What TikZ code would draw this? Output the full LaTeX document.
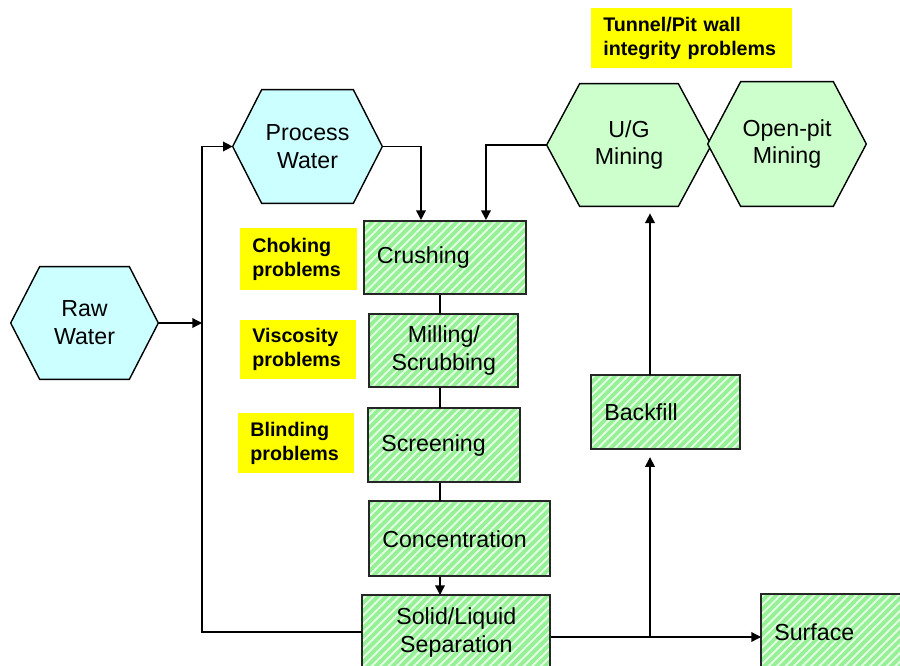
\documentclass[tikz,border=0pt]{standalone}
\usepackage{fontspec}
\setmainfont{Liberation Sans}
\usetikzlibrary{arrows.meta,patterns.meta}
\pgfdeclarelayer{background}
\pgfsetlayers{background,main}
\definecolor{stagegreen}{RGB}{150,240,150}
\definecolor{stripe}{RGB}{228,255,228}
\definecolor{waterblue}{RGB}{204,255,255}
\definecolor{minegreen}{RGB}{204,255,204}
\definecolor{noteyellow}{RGB}{255,255,0}
\newcommand{\stagefont}{\fontsize{13.2}{15.9}\selectfont}
\newcommand{\notefont}{\fontsize{11.2}{13.6}\selectfont\bfseries}
\tikzset{
	stage/.style={preaction={fill=stagegreen},
		pattern={Lines[angle=45,distance=3.4pt,line width=1.1pt]}, pattern color=stripe,
		postaction={draw=black!85, line width=1.1pt},
		anchor=north west, inner xsep=0.26cm, inner ysep=0pt, font=\stagefont},
	note/.style={fill=noteyellow, anchor=north west, inner xsep=0.24cm, inner ysep=0pt,
		align=left, font=\notefont},
	hexlabel/.style={inner sep=0pt, align=center, font=\stagefont},
	hexline/.style={draw=black, line width=0.8pt},
	flow/.style={line width=0.8pt}
}
\def\hexbox[#1](#2)(#3:#4:#5)#6#7{%
	\node[hexlabel, minimum width=#3cm, minimum height=#4cm] (#6) at (#2) {#7};
	\begin{pgfonlayer}{background}
		\draw[hexline, fill=#1] (#6.west) -- ([xshift=#5cm]#6.north west) -- ([xshift=-#5cm]#6.north east)
		-- (#6.east) -- ([xshift=-#5cm]#6.south east) -- ([xshift=#5cm]#6.south west) -- cycle;
	\end{pgfonlayer}}

\begin{document}
\begin{tikzpicture}[x=0.02cm, y=-0.02cm, >={Triangle[length=5.5pt,width=5.5pt]}]
	%%%%% START %%%%%
	\useasboundingbox (0,0) rectangle (900,666);
	\clip (0,0) rectangle (900,666);
	
	\hexbox[waterblue](84.5,323)(2.94:2.24:0.58){raw}{Raw\\Water}
	\hexbox[waterblue](307.5,146.5)(2.98:2.26:0.58){proc}{Process\\Water}
	\hexbox[minegreen](629,145)(3.28:2.44:0.66){ug}{U/G\\Mining}
	\hexbox[minegreen](787,144)(3.16:2.48:0.66){pit}{Open-pit\\Mining}
	
	\node[stage, text width=2.72cm, align=left, minimum height=1.46cm] (crush) at (363,220) {Crushing};
	\node[stage, text width=2.46cm, align=center, minimum height=1.46cm] (mill) at (369,314) {Milling/\\Scrubbing};
	\node[stage, text width=2.52cm, align=left, minimum height=1.48cm] (screen) at (368,408) {Screening};
	\node[stage, text width=3.10cm, align=left, minimum height=1.50cm] (conc) at (369,501) {Concentration};
	\node[stage, text width=3.24cm, align=center, minimum height=1.50cm] (solid) at (362,595) {Solid/Liquid\\Separation};
	\node[stage, text width=2.46cm, align=left, minimum height=1.48cm] (backfill) at (591,375) {Backfill};
	\node[stage, text width=2.48cm, align=left, minimum height=1.52cm] (surface) at (761,594) {Surface};
	
	\node[note, text width=1.86cm, minimum height=1.24cm] (choke) at (240,228) {Choking\\problems};
	\node[note, text width=1.84cm, minimum height=1.18cm] (visc) at (240,320) {Viscosity\\problems};
	\node[note, text width=1.84cm, minimum height=1.20cm] (blind) at (238,413) {Blinding\\problems};
	\node[note, text width=3.54cm, minimum height=1.20cm] (tunnel) at (591,8) {Tunnel/Pit wall\\integrity problems};
	
	\coordinate (spine) at (440,0);
	\coordinate (loopbot) at (202,632);
	\coordinate (tee) at (650,637);
	
	\draw[flow,->] (raw.east) -- (raw.east -| loopbot);
	\draw[flow,->] (loopbot -| solid.west) -- (loopbot) |- (proc.west);
	\draw[flow,->] (proc.east) -| ([xshift=1.16cm]crush.north west);
	\draw[flow,->] (ug.west) -| ([xshift=2.46cm]crush.north west);
	
	\draw[flow] (crush.south -| spine) -- (mill.north -| spine);
	\draw[flow] (mill.south -| spine) -- (screen.north -| spine);
	\draw[flow] (screen.south -| spine) -- (conc.north -| spine);
	\draw[flow,->] (conc.south -| spine) -- (solid.north -| spine);
	
	\draw[flow,->] (tee -| solid.east) -- (tee -| surface.west);
	\draw[flow,->, shorten >=0.15cm] (tee) -- (tee |- backfill.south);
	\draw[flow,->, shorten >=0.14cm] (tee |- backfill.north) -- (tee |- ug.south);
	
	%%%%% END %%%%%
\end{tikzpicture}
\end{document}
